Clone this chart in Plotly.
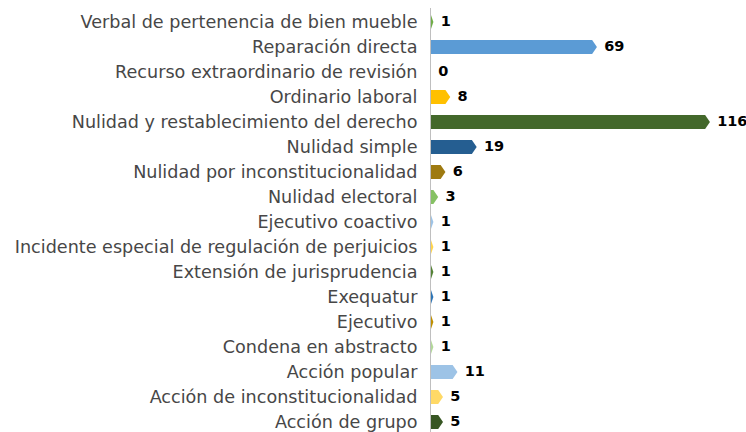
import plotly.graph_objects as go

categories = [
    "Verbal de pertenencia de bien mueble",
    "Reparación directa",
    "Recurso extraordinario de revisión",
    "Ordinario laboral",
    "Nulidad y restablecimiento del derecho",
    "Nulidad simple",
    "Nulidad por inconstitucionalidad",
    "Nulidad electoral",
    "Ejecutivo coactivo",
    "Incidente especial de regulación de perjuicios",
    "Extensión de jurisprudencia",
    "Exequatur",
    "Ejecutivo",
    "Condena en abstracto",
    "Acción popular",
    "Acción de inconstitucionalidad",
    "Acción de grupo",
]
values = [1, 69, 0, 8, 116, 19, 6, 3, 1, 1, 1, 1, 1, 1, 11, 5, 5]
colors = [
    "#70AD47", "#5B9BD5", "#A5A5A5", "#FFC000", "#43682B", "#255E91",
    "#9E7A10", "#86C164", "#9DC3E6", "#FFD44D", "#548235", "#2E75B6",
    "#BF9000", "#B3D89A", "#9DC3E6", "#FFD966", "#375623",
]

HALF = 0.28   # half bar thickness (category units)
TIP = 2.0     # arrow tip length (value units)

fig = go.Figure()
for i, (v, c) in enumerate(zip(values, colors)):
    if v <= 0:
        continue
    t = min(TIP, v)
    xs = [0, v - t, v, v - t, 0, 0]
    ys = [i - HALF, i - HALF, i, i + HALF, i + HALF, i - HALF]
    fig.add_trace(go.Scatter(
        x=xs, y=ys, mode="lines", fill="toself", fillcolor=c,
        line=dict(width=0, color=c), hoverinfo="skip", showlegend=False,
    ))

fig.add_trace(go.Scatter(
    x=values, y=list(range(len(values))), mode="markers+text",
    text=[str(v) for v in values], textposition="middle right",
    marker=dict(size=10, opacity=0),
    textfont=dict(family="DejaVu Sans", size=14.5, color="#000000", weight="bold"),
    showlegend=False, hoverinfo="skip", cliponaxis=False,
))

fig.update_layout(
    width=746, height=432,
    margin=dict(l=431, r=0, t=8, b=0, autoexpand=False),
    plot_bgcolor="white", paper_bgcolor="white",
    font=dict(family="DejaVu Sans", size=17.6, color="#474747"),
    hovermode=False,
)
fig.update_xaxes(range=[0, 131], visible=False, showgrid=False, zeroline=False,
                 automargin=False)
fig.update_yaxes(
    range=[16.4, -0.56],
    tickvals=list(range(len(categories))), ticktext=categories,
    showgrid=False, zeroline=False, automargin=False,
    showline=True, linecolor="#BFBFBF", linewidth=1,
    ticks="", ticklabelstandoff=9, ticklabeloverflow="allow",
)

fig.write_html("out.html", config={"displayModeBar": False},
               post_script="document.body.style.margin='0';")
